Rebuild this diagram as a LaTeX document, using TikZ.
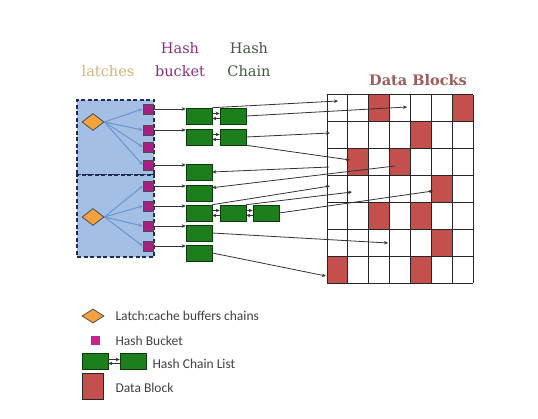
\documentclass[tikz,border=0pt]{standalone}
\usepackage{fontspec}
\setmainfont{DejaVu Serif}
\newfontfamily\legendfont{Carlito}
\usetikzlibrary{shapes.geometric,arrows.meta}

\definecolor{panelblue}{HTML}{A3BFE6}
\definecolor{panelline}{HTML}{1F2D55}
\definecolor{latchorange}{HTML}{F5A23E}
\definecolor{bucketpurple}{HTML}{A5217F}
\definecolor{legendpink}{HTML}{C8238E}
\definecolor{chaingreen}{HTML}{1C7F1C}
\definecolor{chainline}{HTML}{0B3B0B}
\definecolor{blockred}{HTML}{C4504E}
\definecolor{titlered}{HTML}{9E5A5C}
\definecolor{latchtext}{HTML}{CDB57A}
\definecolor{buckettext}{HTML}{8B2E80}
\definecolor{chaintext}{HTML}{3F5A40}
\definecolor{linkblue}{HTML}{6A97CF}

\tikzset{
  panel/.style={draw=panelline, dash pattern=on 4pt off 2.5pt, line width=1.2pt, fill=panelblue, minimum width=77pt, inner sep=0pt},
  latch/.style={diamond, draw=black!70, fill=latchorange, line width=0.8pt, minimum width=22pt, minimum height=17pt, inner sep=0pt},
  bucket/.style={draw=black!70, fill=bucketpurple, minimum size=10pt, inner sep=0pt, line width=0.6pt},
  chain/.style={draw=chainline, fill=chaingreen, minimum width=26pt, minimum height=16pt, inner sep=0pt, line width=0.6pt},
  ptr/.style={->, >={Stealth[length=4pt,width=3.5pt]}, black!80, line width=0.8pt},
  latchptr/.style={ptr, linkblue, line width=1pt},
  legendtext/.style={anchor=west, font=\legendfont\fontsize{13.5}{15}\selectfont, text=black!75},
  headtext/.style={anchor=base, font=\fontsize{14.5}{17}\selectfont},
}

\begin{document}
\begin{tikzpicture}[x=1pt,y=-1pt]
\useasboundingbox (0,0) rectangle (538,419);

% headings
\node[headtext, text=latchtext] (hl) at (108,77) {latches};
\node[headtext, text=buckettext] (hb1) at (180,54) {Hash};
\node[headtext, text=buckettext] (hb2) at (180,77) {bucket};
\node[headtext, text=chaintext] (hc1) at (249,54) {Hash};
\node[headtext, text=chaintext] (hc2) at (249,77) {Chain};
\node[font=\bfseries\fontsize{14.5}{17}\selectfont, text=titlered] (title) at (418,80) {Data Blocks};

% latch panels
\node[panel, minimum height=75pt] (p1) at (115.5,137.5) {};
\node[panel, minimum height=82pt] (p2) at (115.5,216) {};
\node[latch] (l1) at (93,122) {};
\node[latch] (l2) at (93,217) {};

% buckets
\foreach \y [count=\i from 0] in {109,130,147,165,186,206,226,246}
  \node[bucket] (b\i) at (148,\y) {};
\foreach \i in {0,...,3}
  \draw[latchptr] (l1.east) -- (b\i.west);
\foreach \i in {4,...,7}
  \draw[latchptr] (l2.east) -- (b\i.west);

% hash chains
\node[chain] (c0) at (199,116) {};
\node[chain] (c1) at (199,137) {};
\node[chain] (c3) at (199,172) {};
\node[chain] (c4) at (199,193) {};
\node[chain] (c5) at (199,213) {};
\node[chain] (c6) at (199,233) {};
\node[chain] (c7) at (199,253) {};
\node[chain] (c0b) at (233,116) {};
\node[chain] (c1b) at (233,137) {};
\node[chain] (c5b) at (233,213) {};
\node[chain] (c5c) at (266,213) {};

\foreach \i in {0,1,3,4,5,6,7}
  \draw[ptr] (b\i.east) -- (b\i -| c\i.west);

\foreach \a/\b in {c0/c0b,c1/c1b,c5/c5b,c5b/c5c} {
  \draw[ptr] ([yshift=2.5pt]\a.east) -- ([yshift=2.5pt]\b.west);
  \draw[ptr] ([yshift=-2.5pt]\b.west) -- ([yshift=-2.5pt]\a.east);
}

% data blocks
\foreach \c/\r in {2/0,6/0,4/1,1/2,3/2,5/3,2/4,4/4,5/5,0/6,4/6}
  \fill[blockred] (327+\c*20.86,95+\r*26.86) rectangle ++(20.86,26.86);
\foreach \i in {0,...,7} {
  \draw[black!85, line width=1pt] (327+\i*20.86,95) -- ++(0,188);
  \draw[black!85, line width=1pt] (327,95+\i*26.86) -- ++(146,0);
}

\coordinate (d0) at (338,101);
\coordinate (d1) at (407,107);
\coordinate (d2) at (330,133);
\coordinate (d3) at (350,160);
\coordinate (d4) at (329,167);
\coordinate (d5) at (395,166);
\coordinate (d6) at (330,186);
\coordinate (d7) at (352,192);
\coordinate (d8) at (433,191);
\coordinate (d9) at (388,243);
\coordinate (d10) at (326,276);

\draw[ptr] (c0.north east) -- (d0);
\draw[ptr] (c0b.east) -- (d1);
\draw[ptr] (c1b.east) -- (d2);
\draw[ptr] (c1b.south east) -- (d3);
\draw[ptr] (d4) -- (c3.east);
\draw[ptr] (d5) -- ([yshift=-3pt]c4.north east);
\draw[ptr] (c5.north east) -- (d6);
\draw[ptr] (c5b.north east) -- (d7);
\draw[ptr] (c5c.east) -- (d8);
\draw[ptr] (c6.east) -- (d9);
\draw[ptr] (c7.east) -- (d10);

% legend
\node[latch, minimum height=14pt] (lg1) at (93,316) {};
\node[legendtext] (lt1) at (112,316) {Latch:cache buffers chains};
\node[fill=legendpink, minimum size=9pt, inner sep=0pt] (lg2) at (95,341) {};
\node[legendtext] (lt2) at (112,341) {Hash Bucket};
\node[chain] (lg3a) at (95,361.5) {};
\node[chain] (lg3b) at (133,361.5) {};
\draw[ptr] ([yshift=2pt]lg3a.east) -- ([yshift=2pt]lg3b.west);
\draw[ptr] ([yshift=-2pt]lg3b.west) -- ([yshift=-2pt]lg3a.east);
\node[legendtext] (lt3) at (149,364) {Hash Chain List};
\node[draw=black!85, fill=blockred, line width=0.8pt, minimum width=21pt, minimum height=26pt, inner sep=0pt] (lg4) at (92.5,386) {};
\node[legendtext] (lt4) at (112,388) {Data Block};
\end{tikzpicture}
\end{document}
